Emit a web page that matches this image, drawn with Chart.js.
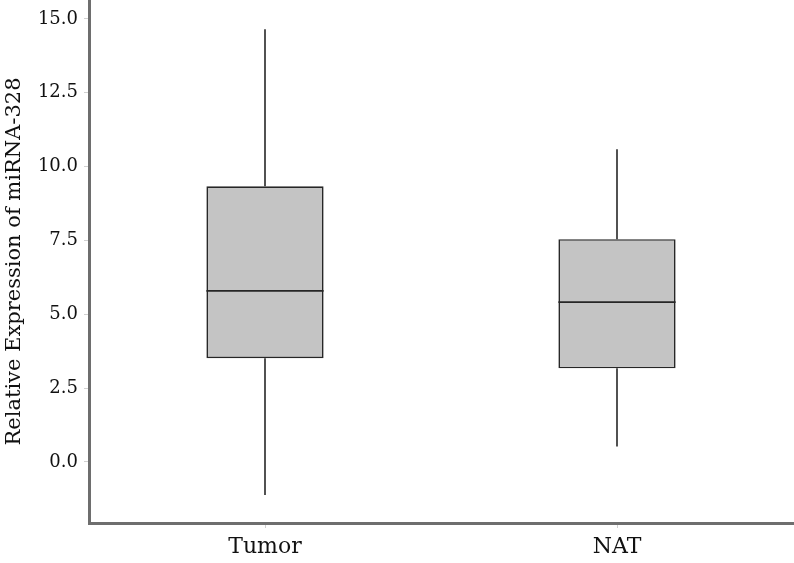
<!DOCTYPE html>
<html>
<head>
<meta charset="utf-8">
<script src="https://cdn.jsdelivr.net/npm/chart.js@4/dist/chart.umd.min.js"></script>
<style>
  html, body { margin: 0; padding: 0; background: #ffffff; }
  #wrap { width: 794px; height: 563px; position: relative; }
</style>
</head>
<body>
<div id="wrap"><canvas id="c" width="794" height="563"></canvas></div>
<script>
// ---- data ----
const categories  = ['Tumor', 'NAT'];
const whiskerLow  = [-1.12, 0.52];
const q1          = [3.51, 3.17];
const median      = [5.79, 5.41];
const q3          = [9.33, 7.54];
const whiskerHigh = [14.65, 10.59];
const yTickStep   = 2.5;
const yMin = -2.07, yMax = 15.64;
const yTitle = 'Relative Expression of miRNA-328';

const FONT = "'DejaVu Serif', 'Liberation Serif', serif";
const LINE = '#262626';

const boxPlotPlugin = {
  id: 'boxWhiskers',
  afterDatasetsDraw(chart) {
    const ctx = chart.ctx;
    const y = chart.scales.y;
    const meta = chart.getDatasetMeta(0);
    ctx.save();
    ctx.strokeStyle = LINE;
    ctx.lineWidth = 1.6;
    meta.data.forEach((bar, i) => {
      const cx = bar.x;
      const half = bar.width / 2;
      ctx.beginPath();
      ctx.moveTo(cx, y.getPixelForValue(whiskerHigh[i]));
      ctx.lineTo(cx, y.getPixelForValue(q3[i]));
      ctx.stroke();
      ctx.beginPath();
      ctx.moveTo(cx, y.getPixelForValue(q1[i]));
      ctx.lineTo(cx, y.getPixelForValue(whiskerLow[i]));
      ctx.stroke();
      ctx.beginPath();
      ctx.moveTo(cx - half, y.getPixelForValue(median[i]));
      ctx.lineTo(cx + half, y.getPixelForValue(median[i]));
      ctx.stroke();
    });
    ctx.restore();
  }
};

new Chart(document.getElementById('c'), {
  type: 'bar',
  data: {
    labels: categories,
    datasets: [{
      data: categories.map((_, i) => [q1[i], q3[i]]),
      backgroundColor: '#c4c4c4',
      borderColor: LINE,
      borderWidth: 1.6,
      borderSkipped: false,
      barPercentage: 0.333,
      categoryPercentage: 1.0
    }]
  },
  options: {
    responsive: false,
    animation: false,
    devicePixelRatio: 1,
    layout: { padding: { top: 0, right: 1, bottom: 0, left: 0 } },
    plugins: { legend: { display: false }, tooltip: { enabled: false } },
    scales: {
      x: {
        offset: true,
        grid: { display: true, drawOnChartArea: false, drawTicks: true, tickLength: 5, color: '#d0d0d0', offset: false },
        border: { display: true, color: '#6e6e6e', width: 3 },
        ticks: { color: '#111', font: { family: FONT, size: 22 }, padding: 6 },
        afterFit(scale) { scale.height = 40; scale.paddingLeft = 0; scale.paddingRight = 0; }
      },
      y: {
        min: yMin,
        max: yMax,
        grid: { display: true, drawOnChartArea: false, drawTicks: true, tickLength: 5, color: '#d0d0d0' },
        border: { display: true, color: '#6e6e6e', width: 3 },
        ticks: {
          stepSize: yTickStep,
          includeBounds: false,
          color: '#111',
          font: { family: FONT, size: 18 },
          padding: 6,
          callback: (v) => Number(v).toFixed(1)
        },
        title: { display: true, text: yTitle, color: '#111', font: { family: FONT, size: 21 }, padding: { top: 2, bottom: 0 } },
        afterFit(scale) { scale.width = 89; scale.paddingTop = 0; scale.paddingBottom = 0; }
      }
    }
  },
  plugins: [boxPlotPlugin]
});
</script>
</body>
</html>
